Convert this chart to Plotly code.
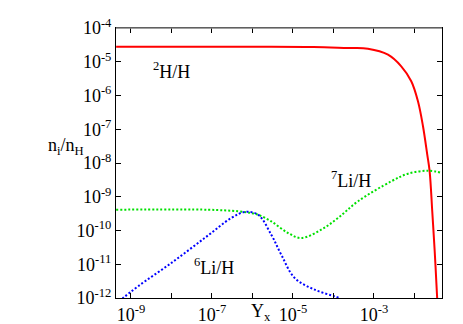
import plotly.graph_objects as go

# values (x = Y_x, y = n_i/n_H)
d_x = [4.3e-10, 1e-6, 3.2e-5, 2.28e-4, 7.1e-4, 2.22e-3, 4.72e-3, 8.34e-3,
       1.22e-2, 1.62e-2, 2.07e-2, 2.37e-2, 2.75e-2, 3.16e-2, 3.6e-2, 3.72e-2]
d_y = [2.8e-5, 2.8e-5, 2.75e-5, 2.55e-5, 2.44e-5, 1.62e-5, 7.33e-6, 2.64e-6,
       6.73e-7, 1.25e-7, 1.76e-8, 5.68e-9, 3.71e-10, 2.42e-11, 1.25e-12, 6e-13]

li7_x = [4.3e-10, 7.96e-8, 4.39e-7, 9.33e-7, 1.37e-6, 2.91e-6, 7.53e-6, 1.6e-5,
         5.0e-5, 1.29e-4, 4.03e-4, 2.67e-3, 6.92e-3, 2.15e-2, 4.85e-2]
li7_y = [4.13e-10, 4.13e-10, 3.71e-10, 3.3e-10, 2.94e-10, 1.87e-10, 8.43e-11, 6.0e-11,
         1.06e-10, 2.34e-10, 7.33e-10, 2.87e-9, 4.82e-9, 5.92e-9, 5.06e-9]

li6_x = [4.3e-10, 6.34e-10, 1.49e-9, 9.89e-9, 6.61e-8, 3.0e-7, 6.41e-7,
         1.37e-6, 2.91e-6, 5.14e-6, 1.1e-5, 3.44e-5, 1.07e-4, 1.42e-4]
li6_y = [6.9e-13, 1e-12, 2.22e-12, 1.09e-11, 6.0e-11, 2.34e-10, 3.53e-10,
         2.94e-10, 7.52e-11, 1.92e-11, 3.92e-12, 1.76e-12, 1.12e-12, 1e-12]

xtick_vals = [1e-9, 1e-8, 1e-7, 1e-6, 1e-5, 1e-4, 1e-3, 1e-2]
xtick_text = ["10<sup>-9</sup>", "", "10<sup>-7</sup>", "", "10<sup>-5</sup>", "",
              "10<sup>-3</sup>", ""]
ytick_vals = [10.0 ** -k for k in range(4, 13)]
ytick_text = ["10<sup>-%d</sup>" % k for k in range(4, 13)]

FONT = "Liberation Serif"

# plot area in pixels (used to place the free text labels)
L, R, T, B = 108, 434, 20, 290

fig = go.Figure()
fig.add_trace(go.Scatter(x=d_x, y=d_y, mode="lines", line_shape="spline",
                         line=dict(color="#ff0000", width=2), name="2H/H"))
fig.add_trace(go.Scatter(x=li7_x, y=li7_y, mode="lines", line_shape="spline",
                         line=dict(color="#00e000", width=2, dash="2px,2px"), name="7Li/H"))
fig.add_trace(go.Scatter(x=li6_x, y=li6_y, mode="lines", line_shape="spline",
                         line=dict(color="#0000ff", width=2, dash="2px,2px"), name="6Li/H"))

axis_common = dict(
    type="log", showgrid=False, zeroline=False, showline=True, linecolor="black",
    linewidth=1, mirror="ticks", ticks="inside", ticklen=5, tickcolor="black",
    tickfont=dict(family=FONT, size=18, color="black"), automargin=False,
)
fig.update_xaxes(range=[-9.37, -1.32], tickvals=xtick_vals, ticktext=xtick_text,
                 **axis_common)
fig.update_yaxes(range=[-12, -4], tickvals=ytick_vals, ticktext=ytick_text,
                 **axis_common)

# top border is grey in the original
fig.add_shape(type="line", xref="paper", yref="paper", x0=0, x1=1, y0=1, y1=1,
              line=dict(color="#808080", width=1.5))

labels = [
    ("<sup>2</sup>H/H", 163, 63, "middle"),
    ("<sup>7</sup>Li/H", 343, 172, "middle"),
    ("<sup>6</sup>Li/H", 206, 258, "middle"),
    ("n<sub>i</sub>/n<sub>H</sub>", 58, 138, "middle"),
    ("Y<sub>x</sub>", 253, 291, "top"),
]
for txt, px, py, ya in labels:
    fig.add_annotation(text=txt, x=(px - L) / (R - L), y=(B - py) / (B - T),
                       xref="paper", yref="paper",
                       showarrow=False, xanchor="center", yanchor=ya,
                       font=dict(family=FONT, size=18, color="black"))

fig.update_layout(
    width=463, height=324, showlegend=False,
    margin=dict(l=L, r=463 - R, t=T, b=324 - B),
    plot_bgcolor="white", paper_bgcolor="white",
)
fig.write_html("out.html")
